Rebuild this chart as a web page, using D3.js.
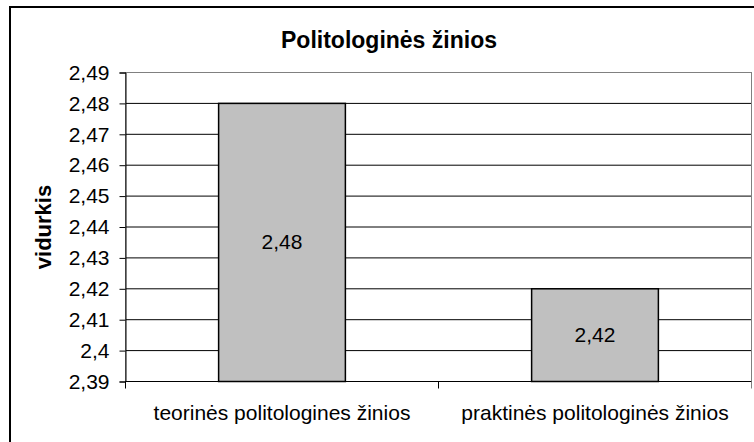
<!DOCTYPE html>
<html>
<head>
<meta charset="utf-8">
<script src="https://cdn.jsdelivr.net/npm/d3@7"></script>
<style>
  body { margin: 0; background: #fff; }
  svg { display: block; font-family: Arial, "Liberation Sans", sans-serif; }
</style>
</head>
<body>
<script>
const categories = ["teorinės politologines žinios", "praktinės politologinės žinios"];
const values = [2.48, 2.42];
const yTicks = [2.39, 2.40, 2.41, 2.42, 2.43, 2.44, 2.45, 2.46, 2.47, 2.48, 2.49];
const title = "Politologinės žinios";
const yTitle = "vidurkis";

const width = 754, height = 442;
const margin = { top: 72.5, right: 2.5, bottom: 60.5, left: 125.5 };
const plotW = width - margin.left - margin.right;
const plotH = height - margin.top - margin.bottom;

const fmt = (v) => d3.format(".2~f")(v).replace(".", ",");

const svg = d3.select("body").append("svg")
  .attr("width", width)
  .attr("height", height);

// chart frame
svg.append("rect")
  .attr("x", 10).attr("y", 7)
  .attr("width", width).attr("height", height)
  .attr("fill", "none").attr("stroke", "#000").attr("stroke-width", 2);

svg.append("text")
  .attr("x", 389).attr("y", 48)
  .attr("text-anchor", "middle")
  .attr("font-size", 23).attr("font-weight", "bold")
  .text(title);

const g = svg.append("g")
  .attr("transform", "translate(" + margin.left + "," + margin.top + ")");

const x = d3.scaleBand().domain(categories).range([0, plotW]).paddingInner(0.595).paddingOuter(0.2975);
const y = d3.scaleLinear().domain([2.39, 2.49]).range([plotH, 0]);

// gridlines
g.append("g").selectAll("line")
  .data(yTicks.slice(1, -1))
  .join("line")
  .attr("x1", 0).attr("x2", plotW)
  .attr("y1", (d) => y(d)).attr("y2", (d) => y(d))
  .attr("stroke", "#000").attr("stroke-width", 1);

// plot border
g.append("rect")
  .attr("x", 0).attr("y", 0).attr("width", plotW).attr("height", plotH)
  .attr("fill", "none").attr("stroke", "#808080").attr("stroke-width", 1);

// bars
g.append("g").selectAll("rect")
  .data(values)
  .join("rect")
  .attr("x", (d, i) => x(categories[i]))
  .attr("width", x.bandwidth())
  .attr("y", (d) => y(d))
  .attr("height", (d) => plotH - y(d))
  .attr("fill", "#c0c0c0").attr("stroke", "#000").attr("stroke-width", 1.5);

g.append("g").selectAll("text")
  .data(values)
  .join("text")
  .attr("x", (d, i) => x(categories[i]) + x.bandwidth() / 2)
  .attr("y", (d) => (y(d) + plotH) / 2 + 7)
  .attr("text-anchor", "middle")
  .attr("font-size", 21)
  .text((d) => fmt(d));

// y axis
const yAxis = g.append("g")
  .call(d3.axisLeft(y).tickValues(yTicks).tickSize(6).tickPadding(10).tickFormat(fmt));
yAxis.select(".domain").attr("stroke", "#000");
yAxis.selectAll(".tick line").attr("stroke", "#000");
yAxis.selectAll("text").attr("font-size", 21).attr("fill", "#000").attr("font-family", "Arial, 'Liberation Sans', sans-serif");

// x axis with ticks on category boundaries
const xAxis = g.append("g").attr("transform", "translate(0," + plotH + ")");
xAxis.append("line").attr("x1", 0).attr("x2", plotW).attr("stroke", "#000").attr("stroke-width", 1);
xAxis.selectAll("line.bound")
  .data([0, 1, 2])
  .join("line")
  .attr("class", "bound")
  .attr("x1", (d) => d * plotW / 2).attr("x2", (d) => d * plotW / 2)
  .attr("y1", 0).attr("y2", 7)
  .attr("stroke", (d) => d === 2 ? "#808080" : "#000");
xAxis.selectAll("text")
  .data(categories)
  .join("text")
  .attr("x", (d) => x(d) + x.bandwidth() / 2)
  .attr("y", 38)
  .attr("text-anchor", "middle")
  .attr("font-size", 21)
  .text((d) => d);

svg.append("text")
  .attr("transform", "translate(51," + (margin.top + plotH / 2) + ") rotate(-90)")
  .attr("text-anchor", "middle")
  .attr("font-size", 22).attr("font-weight", "bold")
  .text(yTitle);
</script>
</body>
</html>
